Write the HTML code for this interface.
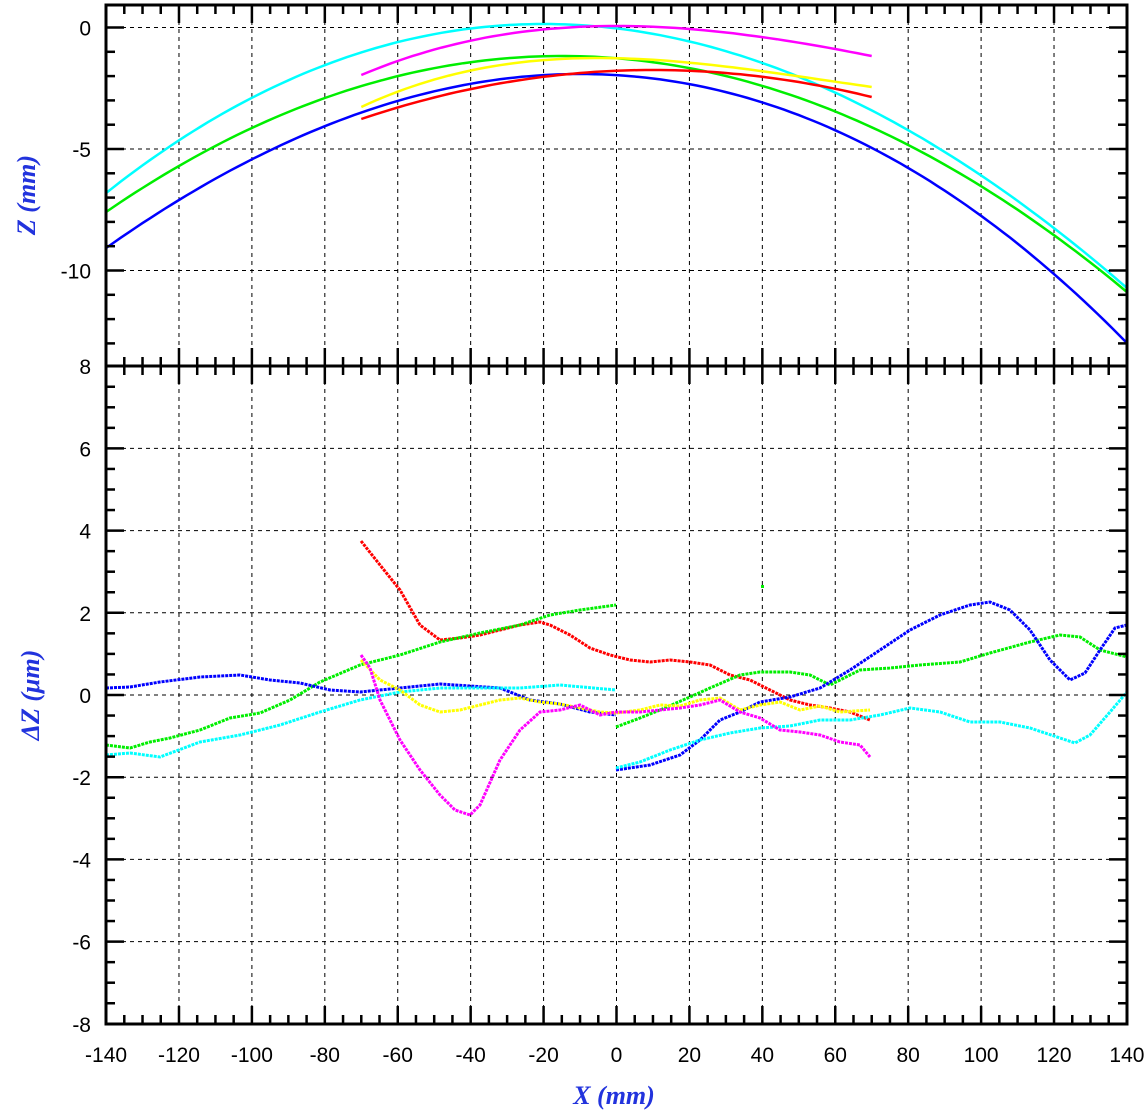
<!DOCTYPE html>
<html><head><meta charset="utf-8"><style>
body{margin:0;background:#fff}
svg{display:block}
text{font-family:"Liberation Sans",sans-serif;font-size:21px}
.t{font-family:"Liberation Serif",serif;font-style:italic;font-weight:bold;fill:#2233dd;font-size:26px}
</style></head><body>
<svg id="s" width="1148" height="1110" xmlns="http://www.w3.org/2000/svg"></svg>
<script>
const s=document.getElementById('s');let h='';
const X0=616.5,KX=3.646,L=106,R=1127,T=5,M=366,B=1024;
const px=x=>X0+KX*x;
const zy=z=>27.5-24.3*z;
const dy=d=>695-41.1*d;
for(let x=-120;x<=120;x+=20){h+=`<line x1="${px(x)}" y1="${T}" x2="${px(x)}" y2="${B}" stroke="#000" stroke-width="1" stroke-dasharray="4,4"/>`;}
[0,-5,-10].forEach(z=>h+=`<line x1="${L}" y1="${zy(z)}" x2="${R}" y2="${zy(z)}" stroke="#000" stroke-width="1" stroke-dasharray="4,4"/>`);
for(let d=-6;d<=6;d+=2)h+=`<line x1="${L}" y1="${dy(d)}" x2="${R}" y2="${dy(d)}" stroke="#000" stroke-width="1" stroke-dasharray="4,4"/>`;
function cub(x0,y0,a,b,x1,x2,c){let p=[];for(let x=x1;x<=x2;x+=2){const d=x-x0;p.push(px(x).toFixed(1)+','+(y0+a*d*d+b*d*d*d).toFixed(1));}h+=`<polyline points="${p.join(' ')}" fill="none" stroke="${c}" stroke-width="2.5"/>`;}
cub(-10,74,0.011067,5.93e-6,-140,140,'#0000ff');
cub(-20,24,0.011126,-5.08e-6,-140,140,'#00ffff');
cub(-15,56,0.009912,-5.8e-7,-140,140,'#00ee00');
cub(0,26,0.00806,-2.77e-5,-70,70,'#ff00ff');
cub(-5,58,0.0086,-4.6e-5,-70,70,'#ffff00');
cub(10,70,0.00757,-1.1e-6,-70,70,'#ff0000');
function pl(c,pts){h+=`<polyline points="${pts}" fill="none" stroke="${c}" stroke-width="3" stroke-dasharray="3,1"/>`;}
pl('#ff0000','361,541 380,565 400,590 420,625 440,640 460,638 480,635 500,630 520,625 540,622 550,625 570,635 590,648 610,655 630,660 650,662 670,660 690,662 710,665 730,675 750,680 770,690 790,700 810,705 830,708 850,712 870,720');
pl('#00ee00','106,745 130,748 150,742 170,738 200,730 230,718 260,713 290,700 320,682 360,665 400,655 440,642 480,633 520,625 550,615 580,610 616,605');
pl('#00ee00','616,727 640,718 660,710 690,697 710,688 740,675 760,672 790,672 810,675 830,685 860,670 890,668 920,665 960,662 990,653 1030,642 1060,635 1080,637 1100,650 1127,657');
pl('#0000ff','106,688 130,687 160,682 200,677 240,675 270,680 300,683 330,690 360,692 400,688 440,684 470,686 500,688 530,700 560,704 590,712 616,715');
pl('#0000ff','616,770 650,765 680,755 700,740 720,720 740,712 760,702 790,697 820,688 850,670 880,650 910,630 940,615 970,605 990,602 1010,610 1030,630 1050,660 1070,680 1085,673 1100,650 1115,628 1127,625');
pl('#00ffff','106,755 130,753 160,757 200,742 240,735 280,725 320,712 360,700 400,692 440,688 480,688 520,688 560,685 616,690');
pl('#00ffff','616,768 640,762 670,750 700,740 730,733 760,728 790,726 820,720 850,720 880,715 910,708 940,712 970,722 1000,722 1030,728 1060,738 1075,743 1090,735 1110,712 1127,692');
pl('#ffff00','361,660 380,680 400,690 420,705 440,712 460,710 480,705 500,700 520,698 540,702 560,704 580,708 600,712 616,713 640,710 660,705 680,706 700,700 720,698 740,710 760,705 780,702 800,710 820,706 840,712 870,710');
pl('#ff00ff','361,655 370,668 380,700 400,740 420,770 440,795 455,810 470,815 480,805 500,760 520,730 540,712 560,710 580,705 600,715 616,712 640,712 660,710 680,708 700,705 720,700 740,712 760,718 780,730 800,732 820,735 840,742 860,745 870,757');
h+=`<rect x="761" y="585" width="3" height="3" fill="#00ee00"/>`;
h+=`<rect x="${L}" y="${T}" width="${R-L}" height="${B-T}" fill="none" stroke="#000" stroke-width="3"/>`;
h+=`<line x1="${L}" y1="${M}" x2="${R}" y2="${M}" stroke="#000" stroke-width="3"/>`;
for(let x=-140;x<=140;x+=5){const maj=x%20==0,l=maj?18:9,X=px(x);
 [[T,T+l],[B,B-l],[M-l,M+l]].forEach(([a,b])=>h+=`<line x1="${X}" y1="${a}" x2="${X}" y2="${b}" stroke="#000" stroke-width="2.5"/>`);
 if(maj)h+=`<text x="${X}" y="1062" text-anchor="middle">${x}</text>`;}
for(let z=0;z>=-13;z--){const Y=zy(z);if(Y<T||Y>M)continue;const l=z%5==0?18:9;
 h+=`<line x1="${L}" y1="${Y}" x2="${L+l}" y2="${Y}" stroke="#000" stroke-width="2.5"/><line x1="${R}" y1="${Y}" x2="${R-l}" y2="${Y}" stroke="#000" stroke-width="2.5"/>`;
 if(z%5==0)h+=`<text x="91" y="${Y+8}" text-anchor="end">${z}</text>`;}
for(let d=-8;d<=8;d+=0.5){const Y=dy(d);const maj=d%2==0,l=maj?18:9;
 h+=`<line x1="${L}" y1="${Y}" x2="${L+l}" y2="${Y}" stroke="#000" stroke-width="2.5"/><line x1="${R}" y1="${Y}" x2="${R-l}" y2="${Y}" stroke="#000" stroke-width="2.5"/>`;
 if(maj)h+=`<text x="91" y="${Y+8}" text-anchor="end">${d}</text>`;}
h+=`<text class="t" x="614" y="1104" text-anchor="middle">X (mm)</text>`;
h+=`<text class="t" transform="translate(35,195) rotate(-90)" text-anchor="middle">Z (mm)</text>`;
h+=`<text class="t" transform="translate(39,695) rotate(-90)" text-anchor="middle">ΔZ (μm)</text>`;
s.innerHTML=h;
</script>
</body></html>
